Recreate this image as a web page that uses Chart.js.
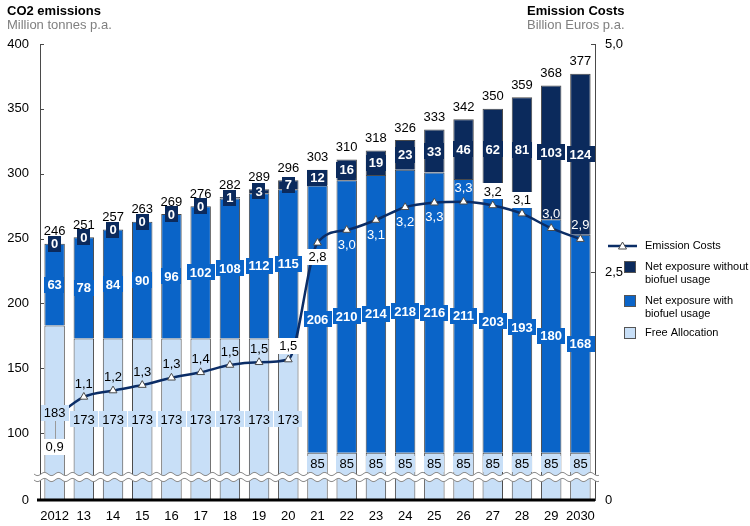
<!DOCTYPE html>
<html>
<head>
<meta charset="utf-8">
<script src="https://cdn.jsdelivr.net/npm/chart.js@4.4.1/dist/chart.umd.min.js"></script>
<style>
    html, body { margin: 0; padding: 0; background: #fff; }
</style>
</head>
<body>
<canvas id="chart" width="750" height="526"></canvas>
<script>
(function (window, document) {
    'use strict';

    // --- data ---
    var years = ['2012', '13', '14', '15', '16', '17', '18', '19', '20', '21',
        '22', '23', '24', '25', '26', '27', '28', '29', '2030'];
    var freeAllocation = [183, 173, 173, 173, 173, 173, 173, 173, 173, 85,
        85, 85, 85, 85, 85, 85, 85, 85, 85];
    var netWithBiofuel = [63, 78, 84, 90, 96, 102, 108, 112, 115, 206,
        210, 214, 218, 216, 211, 203, 193, 180, 168];
    var netWithoutBiofuel = [0, 0, 0, 0, 0, 0, 1, 3, 7, 12,
        16, 19, 23, 33, 46, 62, 81, 103, 124];
    var totals = [246, 251, 257, 263, 269, 276, 282, 289, 296, 303,
        310, 318, 326, 333, 342, 350, 359, 368, 377];
    var emissionCosts = [0.9, 1.13, 1.2, 1.26, 1.34, 1.4, 1.48, 1.51, 1.54, 2.82,
        2.96, 3.07, 3.21, 3.26, 3.27, 3.23, 3.14, 2.98, 2.86];
    var leftTicks = [0, 100, 150, 200, 250, 300, 350, 400];
    var rightTicks = [0, 2.5, 5];

    // value shown at the bottom edge of the broken left axis
    var axisBreakMin = 48.5;

    var FONT = '"Liberation Sans", Arial, sans-serif';
    var COLOR_FREE = '#c8dff7';
    var COLOR_WITH = '#0a64c8';
    var COLOR_WITHOUT = '#0b2a5c';
    var COLOR_LINE = '#0b2d66';
    var COLOR_EDGE = '#4a4a4a';

    // where each cost label sits: offset from point, box colour, text colour
    var costLabelStyle = [
        { dy: 29, box: '#fff', leader: true },
        { dy: -14 }, { dy: -14 }, { dy: -14 }, { dy: -14 }, { dy: -14 }, { dy: -14 }, { dy: -14 },
        { dy: -14, box: '#fff' },
        { dy: 14, box: '#fff' },
        { dy: 14, color: '#fff' }, { dy: 14, color: '#fff' }, { dy: 14, color: '#fff' }, { dy: 14, color: '#fff' },
        { dy: -14, color: '#fff' },
        { dy: -14, box: '#fff' }, { dy: -14, box: '#fff' },
        { dy: -15, color: '#fff' }, { dy: -15, color: '#fff' }
    ];

    function formatComma(value) {
        if (value === 0) {
            return '0';
        }
        return value.toFixed(1).replace('.', ',');
    }

    function drawLabel(ctx, text, x, y, opts) {
        ctx.font = (opts.bold ? 'bold ' : '') + '13px ' + FONT;
        var w = ctx.measureText(text).width;
        if (opts.box) {
            ctx.fillStyle = opts.box;
            ctx.fillRect(Math.round(x - w / 2 - 3), Math.round(y - 8), Math.round(w + 6), 16);
        }
        ctx.fillStyle = opts.color || '#000';
        ctx.textAlign = 'center';
        ctx.textBaseline = 'middle';
        ctx.fillText(text, x, y + 1);
        return w;
    }

    function wavePath(ctx, x0, x1, y) {
        ctx.moveTo(x0, y);
        for (var x = x0; x <= x1; x += 1) {
            ctx.lineTo(x, y + 1.6 * Math.sin((x - x0) / 14 * Math.PI * 2));
        }
    }

    var labelsPlugin = {
        id: 'customLabels',
        afterDatasetsDraw: function (chart) {
            var ctx = chart.ctx;
            var area = chart.chartArea;
            ctx.save();

            // baseline
            ctx.strokeStyle = '#000';
            ctx.lineWidth = 3;
            ctx.beginPath();
            ctx.moveTo(37, area.bottom);
            ctx.lineTo(area.right, area.bottom);
            ctx.stroke();

            // axis break
            var breakY = 474;
            ctx.beginPath();
            wavePath(ctx, 34, 599, breakY);
            for (var bx = 599; bx >= 34; bx -= 1) {
                ctx.lineTo(bx, breakY + 6 + 1.6 * Math.sin((bx - 34) / 14 * Math.PI * 2));
            }
            ctx.closePath();
            ctx.fillStyle = '#fff';
            ctx.fill();
            ctx.strokeStyle = '#8a8a8a';
            ctx.lineWidth = 1;
            ctx.beginPath();
            wavePath(ctx, 34, 599, breakY);
            ctx.stroke();
            ctx.beginPath();
            wavePath(ctx, 34, 599, breakY + 6);
            ctx.stroke();

            // inward tick marks
            var yScale = chart.scales.y;
            var y1Scale = chart.scales.y1;
            ctx.strokeStyle = COLOR_EDGE;
            ctx.lineWidth = 1;
            leftTicks.forEach(function (v) {
                if (v === 0) {
                    return;
                }
                var py = Math.round(yScale.getPixelForValue(v)) + 0.5;
                ctx.beginPath();
                ctx.moveTo(area.left, py);
                ctx.lineTo(area.left + 4, py);
                ctx.stroke();
            });
            rightTicks.forEach(function (v) {
                if (v === 0) {
                    return;
                }
                var py = Math.round(y1Scale.getPixelForValue(v)) + 0.5;
                ctx.beginPath();
                ctx.moveTo(area.right - 4, py);
                ctx.lineTo(area.right, py);
                ctx.stroke();
            });

            // cost labels
            var lineMeta = chart.getDatasetMeta(0);
            lineMeta.data.forEach(function (pt, i) {
                var st = costLabelStyle[i] || { dy: -14 };
                var ly = pt.y + st.dy;
                if (st.leader) {
                    ctx.strokeStyle = '#9a9a9a';
                    ctx.lineWidth = 1;
                    ctx.beginPath();
                    ctx.moveTo(Math.round(pt.x) + 0.5, ly - 8);
                    ctx.lineTo(Math.round(pt.x) + 0.5, ly - 26);
                    ctx.stroke();
                }
                drawLabel(ctx, formatComma(emissionCosts[i]), pt.x, ly, { box: st.box, color: st.color });
            });

            // bar segment labels
            var freeMeta = chart.getDatasetMeta(1);
            var withMeta = chart.getDatasetMeta(2);
            var withoutMeta = chart.getDatasetMeta(3);

            freeMeta.data.forEach(function (bar, i) {
                var bottom = Math.min(bar.base, area.bottom);
                var cy = bottom - bar.y > 60 ? (bar.y + bottom) / 2 : bar.y + 11;
                drawLabel(ctx, String(freeAllocation[i]), bar.x, cy, { box: COLOR_FREE });
            });
            withMeta.data.forEach(function (bar, i) {
                var cy = (bar.y + bar.base) / 2;
                drawLabel(ctx, String(netWithBiofuel[i]), bar.x, cy, { box: COLOR_WITH, color: '#fff', bold: true });
            });
            withoutMeta.data.forEach(function (bar, i) {
                var cy = (bar.y + bar.base) / 2;
                drawLabel(ctx, String(netWithoutBiofuel[i]), bar.x, cy, { box: COLOR_WITHOUT, color: '#fff', bold: true });
                drawLabel(ctx, String(totals[i]), bar.x, bar.y - 13, {});
            });

            ctx.restore();
        },
        afterDraw: function (chart) {
            var ctx = chart.ctx;
            ctx.save();
            ctx.textAlign = 'left';
            ctx.textBaseline = 'middle';

            // titles
            ctx.fillStyle = '#000';
            ctx.font = 'bold 13px ' + FONT;
            ctx.fillText('CO2 emissions', 7, 11);
            ctx.fillText('Emission Costs', 527, 11);
            ctx.fillStyle = '#7f7f7f';
            ctx.font = '13px ' + FONT;
            ctx.fillText('Million tonnes p.a.', 7, 25);
            ctx.fillText('Billion Euros p.a.', 527, 25);

            // legend
            ctx.strokeStyle = COLOR_LINE;
            ctx.lineWidth = 2.5;
            ctx.beginPath();
            ctx.moveTo(608, 246);
            ctx.lineTo(637, 246);
            ctx.stroke();
            ctx.beginPath();
            ctx.moveTo(622.5, 242);
            ctx.lineTo(626.5, 249);
            ctx.lineTo(618.5, 249);
            ctx.closePath();
            ctx.fillStyle = '#fff';
            ctx.fill();
            ctx.strokeStyle = COLOR_EDGE;
            ctx.lineWidth = 1;
            ctx.stroke();

            var boxes = [
                { y: 261, color: COLOR_WITHOUT, lines: ['Net exposure without', 'biofuel usage'] },
                { y: 295, color: COLOR_WITH, lines: ['Net exposure with', 'biofuel usage'] },
                { y: 327, color: COLOR_FREE, lines: ['Free Allocation'] }
            ];
            ctx.font = '11px ' + FONT;
            ctx.fillStyle = '#000';
            ctx.fillText('Emission Costs', 645, 246);
            boxes.forEach(function (b) {
                ctx.fillStyle = b.color;
                ctx.fillRect(624, b.y, 12, 12);
                ctx.strokeStyle = '#555';
                ctx.strokeRect(624.5, b.y + 0.5, 11, 11);
                ctx.fillStyle = '#000';
                b.lines.forEach(function (t, k) {
                    ctx.fillText(t, 645, b.y + 6 + k * 13);
                });
            });

            ctx.restore();
        }
    };

    function barDataset(label, data, color) {
        return {
            type: 'bar',
            label: label,
            data: data,
            backgroundColor: color,
            borderColor: COLOR_EDGE,
            borderWidth: 1,
            stack: 'co2',
            yAxisID: 'y',
            categoryPercentage: 1,
            barPercentage: 0.7,
            clip: 0,
            order: 1
        };
    }

    function init() {
        if (typeof Chart === 'undefined') {
            return;
        }

        new Chart(document.getElementById('chart'), {
            type: 'bar',
            data: {
                labels: years,
                datasets: [
                    {
                        type: 'line',
                        label: 'Emission Costs',
                        data: emissionCosts,
                        yAxisID: 'y1',
                        borderColor: COLOR_LINE,
                        borderWidth: 2.5,
                        cubicInterpolationMode: 'monotone',
                        pointStyle: 'triangle',
                        pointRadius: 4.5,
                        pointBackgroundColor: '#fff',
                        pointBorderColor: COLOR_EDGE,
                        pointBorderWidth: 1,
                        order: 0
                    },
                    barDataset('Free Allocation', freeAllocation, COLOR_FREE),
                    barDataset('Net exposure with biofuel usage', netWithBiofuel, COLOR_WITH),
                    barDataset('Net exposure without biofuel usage', netWithoutBiofuel, COLOR_WITHOUT)
                ]
            },
            options: {
                responsive: false,
                animation: false,
                layout: { padding: { top: 44, left: 0, right: 0, bottom: 0 } },
                plugins: {
                    legend: { display: false },
                    tooltip: { enabled: false }
                },
                scales: {
                    x: {
                        stacked: true,
                        grid: { display: false, drawTicks: false },
                        border: { display: false },
                        ticks: {
                            color: '#000',
                            font: { family: FONT, size: 13 },
                            padding: 9,
                            maxRotation: 0,
                            autoSkip: false
                        },
                        afterFit: function (scale) { scale.height = 26; }
                    },
                    y: {
                        stacked: true,
                        position: 'left',
                        min: axisBreakMin,
                        max: 400,
                        grid: { display: false, drawTicks: false },
                        border: { display: true, color: COLOR_EDGE, width: 1 },
                        afterBuildTicks: function (scale) {
                            scale.ticks = leftTicks.map(function (v) {
                                return { value: v === 0 ? axisBreakMin : v };
                            });
                        },
                        ticks: {
                            color: '#000',
                            font: { family: FONT, size: 13 },
                            padding: 11,
                            callback: function (value) {
                                return value < 100 ? '0' : String(value);
                            }
                        },
                        afterFit: function (scale) { scale.width = 40; }
                    },
                    y1: {
                        position: 'right',
                        min: 0,
                        max: 5,
                        grid: { display: false, drawTicks: false },
                        border: { display: true, color: COLOR_EDGE, width: 1 },
                        afterBuildTicks: function (scale) {
                            scale.ticks = rightTicks.map(function (v) { return { value: v }; });
                        },
                        ticks: {
                            color: '#000',
                            font: { family: FONT, size: 13 },
                            padding: 10,
                            callback: function (value) { return formatComma(value); }
                        },
                        afterFit: function (scale) { scale.width = 155; }
                    }
                }
            },
            plugins: [labelsPlugin]
        });
    }

    if (document.readyState === 'loading') {
        document.addEventListener('DOMContentLoaded', init);
    } else {
        init();
    }
})(window, document);
</script>
</body>
</html>
